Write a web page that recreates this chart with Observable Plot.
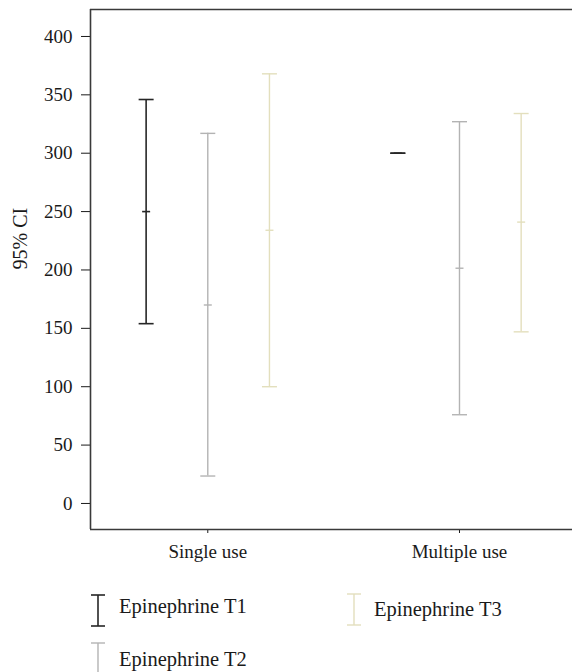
<!DOCTYPE html>
<html>
<head>
<meta charset="utf-8">
<script src="https://cdn.jsdelivr.net/npm/d3@7"></script>
<script src="https://cdn.jsdelivr.net/npm/@observablehq/plot@0.6"></script>
<style>
  html, body { margin: 0; padding: 0; background: white; }
  #wrap { width: 572px; font-family: "Liberation Serif", "DejaVu Serif", serif; color: #1a1a1a; }
  #legend { position: relative; width: 572px; height: 102px; overflow: hidden; }
  #legend .sym { position: absolute; }
  #legend .lab { position: absolute; font-size: 20.5px; line-height: 20px; white-space: nowrap; }
</style>
</head>
<body>
<div id="wrap"><div id="chart"></div><div id="legend"></div></div>
<script>
// ---- data ----
const groups = ["Single use", "Multiple use"];
const series = ["Epinephrine T1", "Epinephrine T2", "Epinephrine T3"];
// rows = groups, columns = series
const lowerCI = [[154, 23.5, 100], [300, 76, 147]];
const meanCI  = [[250, 170, 234], [300, 201.5, 241]];
const upperCI = [[346, 317, 368], [300, 327, 334]];
const yTicks = [0, 50, 100, 150, 200, 250, 300, 350, 400];
const yLabel = "95% CI";

// ---- styles ----
const colors = ["#262626", "#b3b3b3", "#e3dfbd"];
const widths = [1.6, 1.4, 1.4];
const seriesSpread = 0.245;          // offset of each series within a group (group units)
const xDomain = [-0.466, 1.449];
const yDomain = [-22.3, 423.1];

const rows = [];
groups.forEach((g, gi) => series.forEach((s, si) => rows.push({
  group: g, series: s, pos: gi + (si - 1) * seriesSpread,
  lower: lowerCI[gi][si], mean: meanCI[gi][si], upper: upperCI[gi][si]
})));

// horizontal line symbol (r = half width in px)
const hline = { draw(ctx, size) { const r = Math.sqrt(size / Math.PI); ctx.moveTo(-r, 0); ctx.lineTo(r, 0); } };

const chart = Plot.plot({
  width: 572, height: 570,
  marginLeft: 90, marginRight: 0, marginTop: 9, marginBottom: 41,
  style: { fontFamily: "Liberation Serif, DejaVu Serif, serif", fontSize: "19px", color: "#1a1a1a", background: "white", overflow: "hidden" },
  x: { type: "linear", domain: xDomain, ticks: [0, 1], tickFormat: i => groups[i], tickSize: 4, tickPadding: 11, label: null },
  y: { domain: yDomain, ticks: yTicks, tickSize: 9, tickPadding: 9, label: null },
  color: { domain: series, range: colors },
  marks: [
    Plot.ruleY([yDomain[0], yDomain[1]], { stroke: "#3a3a3a", strokeWidth: 1.6 }),
    Plot.ruleX([xDomain[0]], { stroke: "#3a3a3a", strokeWidth: 1.6 }),
    Plot.text([yLabel], { text: d => d, frameAnchor: "left", rotate: -90, dx: -70, fontSize: 20, fill: "#1a1a1a" }),
    ...series.map((s, si) => {
      const d = rows.filter(r => r.series === s);
      return [
        Plot.ruleX(d, { x: "pos", y1: "lower", y2: "upper", stroke: colors[si], strokeWidth: widths[si] }),
        Plot.dot(d, { x: "pos", y: "upper", symbol: hline, r: 7.5, stroke: colors[si], strokeWidth: widths[si], fill: "none" }),
        Plot.dot(d, { x: "pos", y: "lower", symbol: hline, r: 7.5, stroke: colors[si], strokeWidth: widths[si], fill: "none" }),
        Plot.dot(d, { x: "pos", y: "mean", symbol: hline, r: 4, stroke: colors[si], strokeWidth: widths[si], fill: "none" })
      ];
    }).flat()
  ]
});
document.getElementById("chart").appendChild(chart);

// ---- legend (below the SVG) ----
const legendPos = [
  { left: 91, top: 24, textLeft: 119, textTop: 26 },
  { left: 91, top: 72, textLeft: 119, textTop: 79 },
  { left: 347, top: 23, textLeft: 374, textTop: 29 }
];
const legend = document.getElementById("legend");
series.forEach((s, si) => {
  const p = legendPos[si];
  const svg = d3.select(legend).append("svg").attr("class", "sym")
    .attr("width", 14).attr("height", 33)
    .style("left", p.left + "px").style("top", p.top + "px");
  const c = colors[si], w = widths[si];
  svg.append("line").attr("x1", 7).attr("x2", 7).attr("y1", 1).attr("y2", 32).attr("stroke", c).attr("stroke-width", w);
  svg.append("line").attr("x1", 0).attr("x2", 14).attr("y1", 1).attr("y2", 1).attr("stroke", c).attr("stroke-width", w);
  svg.append("line").attr("x1", 0).attr("x2", 14).attr("y1", 32).attr("y2", 32).attr("stroke", c).attr("stroke-width", w);
  d3.select(legend).append("div").attr("class", "lab")
    .style("left", p.textLeft + "px").style("top", p.textTop + "px").text(s);
});
</script>
</body>
</html>
